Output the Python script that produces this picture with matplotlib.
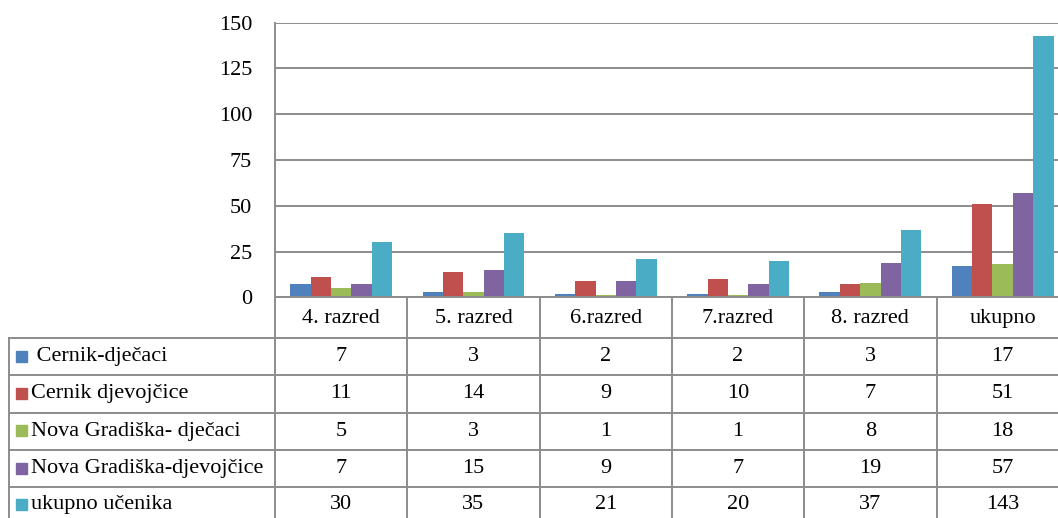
import numpy as np
import matplotlib
matplotlib.use('Agg')
from matplotlib import pyplot as plt

categories = ['4. razred', '5. razred', '6.razred', '7.razred', '8. razred', 'ukupno']
series_names = [' Cernik-dječaci', 'Cernik djevojčice', 'Nova Gradiška- dječaci',
                'Nova Gradiška-djevojčice', 'ukupno učenika']
cernik_djecaci = [7, 3, 2, 2, 3, 17]
cernik_djevojcice = [11, 14, 9, 10, 7, 51]
ng_djecaci = [5, 3, 1, 1, 8, 18]
ng_djevojcice = [7, 15, 9, 7, 19, 57]
ukupno_ucenika = [30, 35, 21, 20, 37, 143]
yticks = [0, 25, 50, 75, 100, 125, 150]

series = [cernik_djecaci, cernik_djevojcice, ng_djecaci, ng_djevojcice, ukupno_ucenika]
colors = ['#4F81BD', '#C0504D', '#9BBB59', '#8064A2', '#4BACC6']
grid_col = '#8C8C8C'
fs = 16

plt.rcParams['font.family'] = ['Liberation Serif', 'DejaVu Serif']
W, H = 1058, 518
fig = plt.figure(figsize=(W / 100, H / 100), dpi=100)

# plot area in pixels (right edge runs past the picture, as in the source)
left_px, top_px, bottom_px = 275, 22.7, 297.3
col_w = 132.3
n = len(categories)
ax = fig.add_axes([left_px / W, (H - bottom_px) / H,
                   n * col_w / W, (bottom_px - top_px) / H])

x = np.arange(n)
bar_w = 1 / 6.5
for k, (vals, c) in enumerate(zip(series, colors)):
    ax.bar(x + (k - 2) * bar_w, vals, width=bar_w, color=c, zorder=3)

ax.set_xlim(-0.5, n - 0.5)
ax.set_ylim(0, 150)
ax.set_yticks(yticks)
ax.set_xticks([])
ax.tick_params(axis='y', length=0, labelsize=fs, pad=16.5)
ax.yaxis.grid(True, color=grid_col, lw=1.4)
for s in ['top', 'right', 'bottom']:
    ax.spines[s].set_visible(False)
ax.spines['left'].set_color(grid_col)
ax.spines['left'].set_linewidth(1.4)
ax.set_axisbelow(True)

# data table drawn below the plot area, in pixel coordinates
tab = fig.add_axes([0, 0, 1, 1], facecolor='none')
tab.set_xlim(0, W)
tab.set_ylim(H, 0)
tab.axis('off')

row_tops = [bottom_px, 338, 375.3, 412.6, 449.9, 487.2, 524.5]
tab_left = 9
right_px = left_px + n * col_w

# x axis line / header top
tab.plot([left_px, right_px], [bottom_px, bottom_px], color=grid_col, lw=1.4)
for y in row_tops[1:-1]:
    tab.plot([tab_left, right_px], [y, y], color=grid_col, lw=1.4)
tab.plot([tab_left, tab_left], [row_tops[1], H + 10], color=grid_col, lw=1.4)
tab.plot([left_px, left_px], [bottom_px, H + 10], color=grid_col, lw=1.4)
for i in range(1, n + 1):
    xx = left_px + i * col_w
    tab.plot([xx, xx], [bottom_px, H + 10], color=grid_col, lw=1.4)

for i, cat in enumerate(categories):
    tab.text(left_px + (i + 0.5) * col_w, (row_tops[0] + row_tops[1]) / 2 + 1, cat,
             ha='center', va='center', fontsize=fs)

for r, (name, vals, c) in enumerate(zip(series_names, series, colors)):
    yc = (row_tops[r + 1] + row_tops[r + 2]) / 2
    if r == len(series) - 1:
        yc = (row_tops[r + 1] + H) / 2 + 2
    tab.add_patch(plt.Rectangle((15.5, yc - 6), 11, 11, color=c))
    tab.text(31, yc, name, ha='left', va='center', fontsize=fs)
    for i, v in enumerate(vals):
        tab.text(left_px + (i + 0.5) * col_w, yc, str(v),
                 ha='center', va='center', fontsize=fs)

fig.savefig('out.png', dpi=100)
